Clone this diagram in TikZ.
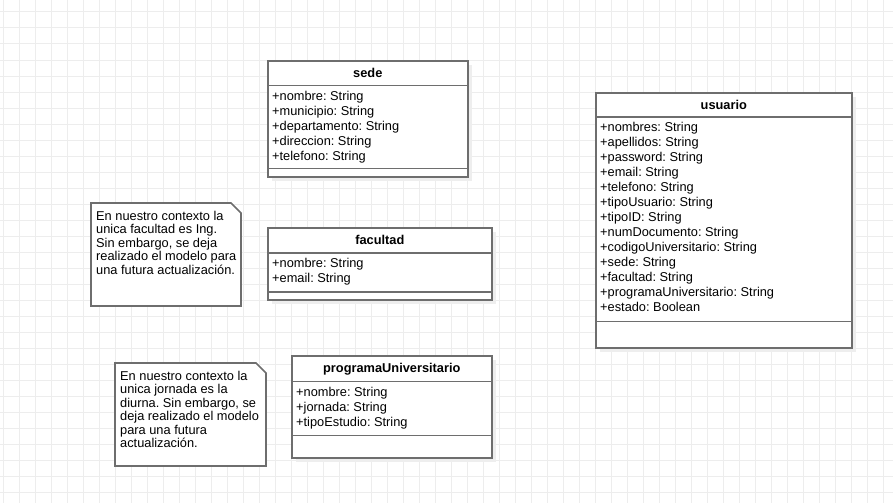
\documentclass[tikz,border=0pt]{standalone}
\usepackage{fontspec}
\setmainfont{Liberation Sans}
\frenchspacing
\usetikzlibrary{positioning,shadows}

\definecolor{umlline}{HTML}{6E6E6E}
\definecolor{gridgray}{HTML}{EDEDED}
\definecolor{shadowgray}{HTML}{EEEEEE}

\tikzset{
  gridline/.style={draw=gridgray, line width=1pt},
  classbox/.style={draw=umlline, line width=1.6pt, fill=white, anchor=north west, inner sep=0pt,
    drop shadow={shadow xshift=4pt, shadow yshift=-4pt, fill=shadowgray, opacity=1}},
  classsep/.style={draw=umlline, line width=1.6pt},
  classtitle/.style={anchor=base, inner sep=0pt, font=\fontsize{12.8}{15}\selectfont\bfseries},
  attr/.style={anchor=base west, inner sep=0pt, font=\fontsize{12.8}{15}\selectfont},
  noteshape/.style={draw=umlline, line width=1.6pt, fill=white, line join=miter},
}

\begin{document}
\begin{tikzpicture}[x=1pt, y=-1pt]
\useasboundingbox (0,0) rectangle (893,503);
% background grid
\foreach \gx in {3,19,...,883} \draw[gridline] (\gx,0) -- (\gx,503);
\foreach \gy in {12,28,...,492} \draw[gridline] (0,\gy) -- (893,\gy);

% sede
\node[classbox, minimum width=200pt, minimum height=116pt] (sede) at (267,60) {};
\node[classtitle] (sede-title) at ([yshift=-17.5pt]sede.north) {sede};
\draw[classsep] ([yshift=-25.5pt]sede.north west) -- ([yshift=-25.5pt]sede.north east);
\draw[classsep] ([yshift=9pt]sede.south west) -- ([yshift=9pt]sede.south east);
\foreach[count=\i] \a in {+nombre: String,+municipio: String,+departamento: String,+direccion: String,+telefono: String}{
\node[attr] (sede-\i) at (272,{85.5+15*\i}) {\a};
}

% facultad
\node[classbox, minimum width=224pt, minimum height=72pt] (facultad) at (267,227) {};
\node[classtitle] (facultad-title) at ([yshift=-17.5pt]facultad.north) {facultad};
\draw[classsep] ([yshift=-26pt]facultad.north west) -- ([yshift=-26pt]facultad.north east);
\draw[classsep] ([yshift=8.5pt]facultad.south west) -- ([yshift=8.5pt]facultad.south east);
\foreach[count=\i] \a in {+nombre: String,+email: String}{
\node[attr] (facultad-\i) at (272,{252.5+15*\i}) {\a};
}

% programaUniversitario
\node[classbox, minimum width=200pt, minimum height=102pt] (programa) at (291,355) {};
\node[classtitle] (programa-title) at ([yshift=-17.5pt]programa.north) {programaUniversitario};
\draw[classsep] ([yshift=-26.5pt]programa.north west) -- ([yshift=-26.5pt]programa.north east);
\draw[classsep] ([yshift=23pt]programa.south west) -- ([yshift=23pt]programa.south east);
\foreach[count=\i] \a in {+nombre: String,+jornada: String,+tipoEstudio: String}{
\node[attr] (programa-\i) at (296,{381+15*\i}) {\a};
}

% usuario
\node[classbox, minimum width=256pt, minimum height=255pt] (usuario) at (595,92) {};
\node[classtitle] (usuario-title) at ([yshift=-17pt]usuario.north) {usuario};
\draw[classsep] ([yshift=-25pt]usuario.north west) -- ([yshift=-25pt]usuario.north east);
\draw[classsep] ([yshift=27pt]usuario.south west) -- ([yshift=27pt]usuario.south east);
\foreach[count=\i] \a in {+nombres: String,+apellidos: String,+password: String,+email: String,+telefono: String,+tipoUsuario: String,+tipoID: String,+numDocumento: String,+codigoUniversitario: String,+sede: String,+facultad: String,+programaUniversitario: String,+estado: Boolean}{
\node[attr] (usuario-\i) at (600,{116.5+15*\i}) {\a};
}

% notes
\draw[noteshape] (91,203) -- (231,203) -- (241,213) -- (241,306) -- (91,306) -- cycle;
\foreach[count=\i] \a in {En nuestro contexto la,unica facultad es Ing.,{Sin embargo, se deja},realizado el modelo para,una futura actualización.}{
\node[attr] (nota1-\i) at (96,{207.1+13.4*\i}) {\a};
}
\draw[noteshape] (115,363) -- (256,363) -- (266,373) -- (266,466) -- (115,466) -- cycle;
\foreach[count=\i] \a in {En nuestro contexto la,unica jornada es la,{diurna. Sin embargo, se},deja realizado el modelo,para una futura,actualización.}{
\node[attr] (nota2-\i) at (120,{367.1+13.4*\i}) {\a};
}
\end{tikzpicture}
\end{document}
